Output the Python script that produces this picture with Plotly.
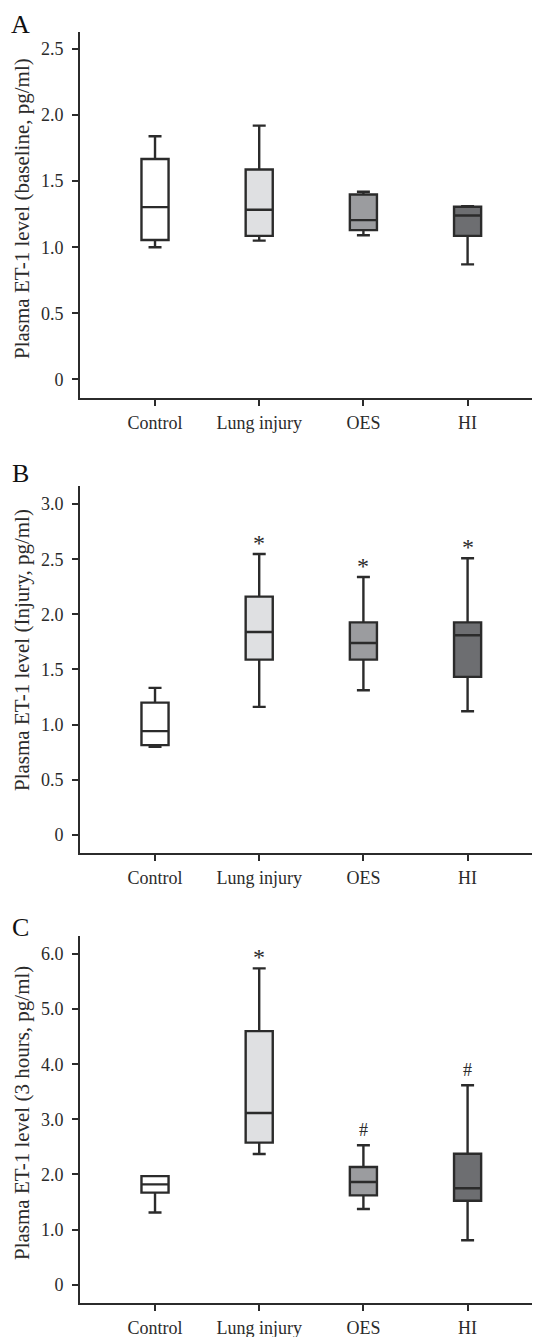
import plotly.graph_objects as go

# ---------------- data ----------------
categories = ["Control", "Lung injury", "OES", "HI"]

# Panel A (baseline)
A_low = [1.00, 1.05, 1.09, 0.87]
A_q1 = [1.055, 1.086, 1.129, 1.086]
A_med = [1.303, 1.283, 1.205, 1.240]
A_q3 = [1.667, 1.588, 1.399, 1.306]
A_high = [1.84, 1.92, 1.42, 1.31]
A_marks = ["", "", "", ""]

# Panel B (injury)
B_low = [0.798, 1.16, 1.311, 1.121]
B_q1 = [0.813, 1.589, 1.589, 1.432]
B_med = [0.94, 1.84, 1.74, 1.81]
B_q3 = [1.199, 2.16, 1.927, 1.927]
B_high = [1.332, 2.547, 2.338, 2.508]
B_marks = ["", "*", "*", "*"]

# Panel C (3 hours)
C_low = [1.31, 2.37, 1.373, 0.805]
C_q1 = [1.67, 2.577, 1.62, 1.524]
C_med = [1.82, 3.115, 1.863, 1.75]
C_q3 = [1.97, 4.60, 2.135, 2.377]
C_high = [1.97, 5.74, 2.53, 3.62]
C_marks = ["", "*", "#", "#"]

A_ticks = [0, 0.5, 1.0, 1.5, 2.0, 2.5]
A_ticktext = ["0", "0.5", "1.0", "1.5", "2.0", "2.5"]
B_ticks = [0, 0.5, 1.0, 1.5, 2.0, 2.5, 3.0]
B_ticktext = ["0", "0.5", "1.0", "1.5", "2.0", "2.5", "3.0"]
C_ticks = [0, 1, 2, 3, 4, 5, 6]
C_ticktext = ["0", "1.0", "2.0", "3.0", "4.0", "5.0", "6.0"]

titles = [
    "Plasma ET-1 level (baseline, pg/ml)",
    "Plasma ET-1 level (Injury, pg/ml)",
    "Plasma ET-1 level (3 hours, pg/ml)",
]
letters = ["A", "B", "C"]

# ---------------- style ----------------
FONT = "Liberation Serif"
INK = "#2b2b2b"
fills = ["#ffffff", "#dfe0e2", "#9b9c9f", "#6d6e71"]

OFF = 8  # page body margin of the browser
W, H = 540 - OFF, 1337 - OFF
ML = 80 - OFF
PW = W - ML

# pixel layout in page coordinates (top, bottom of each plot area)
panel_px = [(31.7, 397.7), (486.0, 852.7), (936.0, 1302.7)]
yranges = [[-0.139, 2.631], [-0.163, 3.164], [-0.327, 6.327]]
title_centers = [209, 650, 1113]
letter_centers = [24, 473, 927]


def py(p):
    return 1 - (p - OFF) / H


def px(p):
    return (p - OFF - ML) / PW


panels = [
    (A_low, A_q1, A_med, A_q3, A_high, A_marks, A_ticks, A_ticktext),
    (B_low, B_q1, B_med, B_q3, B_high, B_marks, B_ticks, B_ticktext),
    (C_low, C_q1, C_med, C_q3, C_high, C_marks, C_ticks, C_ticktext),
]

fig = go.Figure()
annotations = []
layout = {}

for i, (lo, q1, med, q3, hi, marks, tv, tt) in enumerate(panels):
    n = i + 1
    xa = "x" if n == 1 else f"x{n}"
    ya = "y" if n == 1 else f"y{n}"
    for j, cat in enumerate(categories):
        fig.add_trace(go.Box(
            x=[cat], q1=[q1[j]], median=[med[j]], q3=[q3[j]],
            lowerfence=[lo[j]], upperfence=[hi[j]],
            fillcolor=fills[j], line=dict(color=INK, width=2.4),
            width=0.26, whiskerwidth=0.48, boxpoints=False,
            showlegend=False, hoverinfo="skip",
            xaxis=xa, yaxis=ya,
        ))
        if marks[j]:
            star = marks[j] == "*"
            annotations.append(dict(
                x=cat, y=hi[j], xref=xa, yref=ya, text=marks[j],
                showarrow=False, yanchor="middle",
                yshift=11 if star else 15,
                font=dict(family=FONT, size=24 if star else 18, color=INK),
            ))
    top, bot = panel_px[i]
    dom = [py(bot), py(top)]
    xkey = "xaxis" if n == 1 else f"xaxis{n}"
    ykey = "yaxis" if n == 1 else f"yaxis{n}"
    layout[xkey] = dict(
        domain=[0, 1], anchor=ya, type="category",
        categoryorder="array", categoryarray=categories,
        range=[-0.72, 3.695], showline=True, linecolor=INK, linewidth=2,
        ticks="outside", ticklen=6, tickwidth=2, tickcolor=INK,
        showgrid=False, zeroline=False, ticklabelstandoff=2,
        tickfont=dict(family=FONT, size=18, color=INK),
    )
    layout[ykey] = dict(
        domain=dom, anchor=xa, range=yranges[i],
        tickmode="array", tickvals=tv, ticktext=tt,
        showline=True, linecolor=INK, linewidth=2,
        ticks="outside", ticklen=6, tickwidth=2, tickcolor=INK,
        showgrid=False, zeroline=False, ticklabelstandoff=5,
        tickfont=dict(family=FONT, size=18, color=INK),
    )
    annotations.append(dict(
        text=titles[i], xref="paper", yref="paper",
        x=px(22), y=py(title_centers[i]),
        xanchor="center", yanchor="middle", textangle=-90, showarrow=False,
        font=dict(family=FONT, size=21, color=INK),
    ))
    annotations.append(dict(
        text=letters[i], xref="paper", yref="paper",
        x=px(21), y=py(letter_centers[i]),
        xanchor="center", yanchor="middle", showarrow=False,
        font=dict(family=FONT, size=26, color="#111111"),
    ))

fig.update_layout(
    width=W, height=H,
    margin=dict(l=ML, r=0, t=0, b=0),
    paper_bgcolor="white", plot_bgcolor="white",
    boxmode="overlay",
    annotations=annotations,
    **layout,
)

fig.write_html("out.html")
